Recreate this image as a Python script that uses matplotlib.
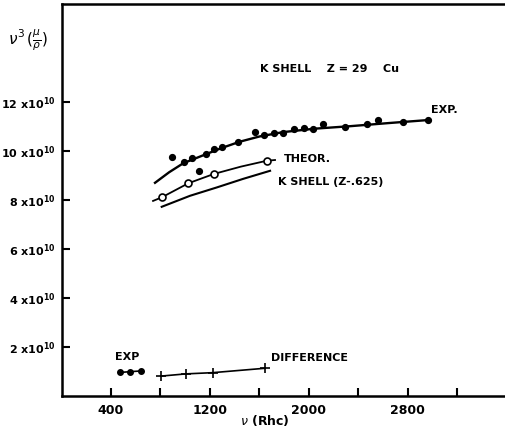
import matplotlib
matplotlib.use("Agg")
import matplotlib.pyplot as plt

# data in units of 1e10
exp_x = [891, 993, 1053, 1109, 1168, 1235, 1295, 1429, 1564, 1639, 1720, 1793,
         1880, 1960, 2036, 2116, 2292, 2472, 2561, 2763, 2960]
exp_y = [9.76, 9.53, 9.71, 9.18, 9.85, 10.06, 10.16, 10.37, 10.78, 10.64, 10.71, 10.73,
         10.87, 10.91, 10.87, 11.08, 10.96, 11.09, 11.25, 11.17, 11.25]
exp_curve_x = [756, 870, 985, 1174, 1300, 1443, 1600, 1793, 2050, 2332, 2650, 2960]
exp_curve_y = [8.69, 9.12, 9.49, 9.87, 10.12, 10.37, 10.58, 10.76, 10.90, 11.00, 11.13, 11.25]

theor_x = [812, 1025, 1231, 1659]
theor_y = [8.10, 8.67, 9.05, 9.59]
theor_line_x = [740, 812, 1025, 1231, 1450, 1659, 1726]
theor_line_y = [7.95, 8.10, 8.67, 9.05, 9.35, 9.59, 9.62]

kshell_x = [810, 1039, 1255, 1468, 1686]
kshell_y = [7.71, 8.16, 8.50, 8.85, 9.18]

exp_low_x = [473, 554, 640]
exp_low_y = [0.95, 0.98, 1.01]

diff_x = [804, 1004, 1221, 1645]
diff_y = [0.80, 0.89, 0.94, 1.12]

xticks = [400, 800, 1200, 1600, 2000, 2400, 2800, 3200]
xticklabels = ["400", "", "1200", "", "2000", "", "2800", ""]
yticks = [2, 4, 6, 8, 10, 12]

fig = plt.figure(figsize=(5.05, 4.3), dpi=100)
ax = fig.add_axes([61.5 / 505, 34.3 / 430, 443.5 / 505, 392 / 430])
ax.set_xlim(0, 3585)
ax.set_ylim(0, 16)

ax.plot(exp_curve_x, exp_curve_y, color="black", lw=1.7)
ax.plot(exp_x, exp_y, "o", color="black", ms=4.2)
ax.plot(theor_line_x, theor_line_y, color="black", lw=1.3)
ax.plot(theor_x, theor_y, "o", mfc="white", mec="black", mew=1.2, ms=5)
ax.plot(kshell_x, kshell_y, color="black", lw=1.5)
ax.plot(exp_low_x, exp_low_y, "o-", color="black", ms=4, lw=1.2)
ax.plot(diff_x, diff_y, "+-", color="black", ms=7, mew=1.2, lw=1.2)

ax.spines["right"].set_visible(False)
for s in ["left", "bottom", "top"]:
    ax.spines[s].set_linewidth(1.8)

ax.set_xticks(xticks)
ax.set_xticklabels(xticklabels, fontsize=9, fontweight="bold")
ax.set_yticks(yticks)
ax.set_yticklabels([r"%d x$\mathbf{10^{10}}$" % v for v in yticks],
                   fontsize=8, fontweight="bold")
ax.tick_params(direction="in", length=6, width=1.5, pad=6)
ax.tick_params(axis="y", pad=4)

ax.text(2170, 13.35, "K SHELL    Z = 29    Cu", fontsize=8, fontweight="bold",
        ha="center", va="center")
ax.text(2990, 11.55, "EXP.", fontsize=8, fontweight="bold")
ax.text(1800, 9.55, "THEOR.", fontsize=8, fontweight="bold")
ax.text(1750, 8.6, "K SHELL (Z-.625)", fontsize=8, fontweight="bold")
ax.text(435, 1.45, "EXP", fontsize=8, fontweight="bold")
ax.text(1690, 1.42, "DIFFERENCE", fontsize=8, fontweight="bold")

fig.text(8 / 505, 1 - 40 / 430, r"$\nu^3\,(\frac{\mu}{\rho})$", fontsize=11,
         va="center")
fig.text(265 / 505, 1 - 421 / 430, r"$\nu$ (Rhc)", fontsize=9, fontweight="bold",
         ha="center", va="center")

fig.savefig("out.png", dpi=100)
